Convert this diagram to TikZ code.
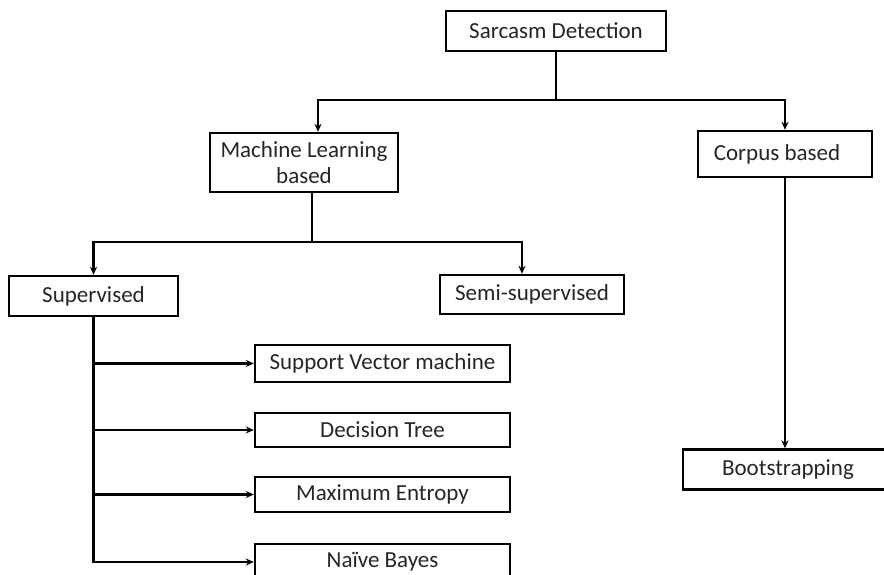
\documentclass[tikz,border=0pt]{standalone}
\usepackage{fontspec}
\setmainfont{Carlito}
\usetikzlibrary{arrows.meta}

\begin{document}
\begin{tikzpicture}[x=1pt, y=-1pt, >={Stealth[length=8pt,width=7pt]},
every node/.style={font=\fontsize{23}{26}\selectfont, inner sep=0pt, text=black!85},
box/.style={draw, line width=2.4pt, align=center},
link/.style={line width=2.2pt}]
\clip (0,0) rectangle (884,575);
\fill[white] (0,0) rectangle (884,575);

\node[box, minimum width=220, minimum height=40] (sd) at (556,31) {Sarcasm Detection};
\node[box, minimum width=188, minimum height=59] (ml) at (304,162.5) {Machine Learning\\based};
\node[box, minimum width=174, minimum height=46] (cb) at (785,154) {Corpus based\hspace{16pt}};
\node[box, minimum width=169, minimum height=40] (sup) at (93.5,296) {Supervised};
\node[box, minimum width=184, minimum height=39] (semi) at (532,294.5) {Semi-supervised};
\node[box, minimum width=255, minimum height=37] (svm) at (382.5,363.5) {Support Vector machine};
\node[box, minimum width=255, minimum height=34] (dt) at (382.5,430) {Decision Tree};
\node[box, minimum width=255, minimum height=35] (me) at (382.5,494.5) {Maximum Entropy};
\node[box, minimum width=255, minimum height=36] (nb) at (382.5,562) {Naïve Bayes};
\node[box, minimum width=210, minimum height=40] (boot) at (788,469.5) {Bootstrapping};

\coordinate (top) at (556,100);
\coordinate (mid) at (312,242);
\draw[link] (sd.south) -- (top);
\draw[link,->] (top) -| ([xshift=14]ml.north);
\draw[link,->] (top) -| (cb.north);
\draw[link] ([xshift=8]ml.south) -- (mid);
\draw[link,->] (mid) -| (sup.north);
\draw[link,->] (mid) -| ([xshift=-10]semi.north);
\draw[link,->] (sup.south) |- (nb.west);
\draw[link,->] (sup.south |- svm.west) -- (svm.west);
\draw[link,->] (sup.south |- dt.west) -- (dt.west);
\draw[link,->] (sup.south |- me.west) -- (me.west);
\draw[link,->] (cb.south) -- (cb.south |- boot.north);
\end{tikzpicture}
\end{document}
